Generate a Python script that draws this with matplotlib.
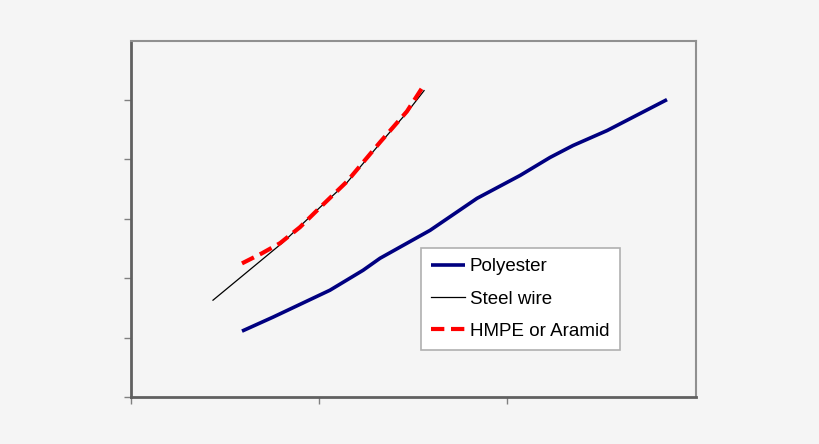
import matplotlib
matplotlib.use("Agg")
import matplotlib.pyplot as plt

plt.rcParams['font.family'] = ['Liberation Sans', 'DejaVu Sans']

poly_x = [0.591, 0.756, 1.058, 1.234, 1.324, 1.590, 1.839, 2.068, 2.227, 2.349, 2.530, 2.848]
poly_y = [1.109, 1.345, 1.798, 2.134, 2.336, 2.807, 3.345, 3.731, 4.034, 4.235, 4.487, 5.008]

steel_x = [0.437, 0.809, 1.005, 1.149, 1.324, 1.467, 1.558]
steel_y = [1.630, 2.605, 3.193, 3.613, 4.269, 4.790, 5.160]

hmpe_x = [0.591, 0.697, 0.793, 0.899, 1.005, 1.149, 1.324, 1.467, 1.563]
hmpe_y = [2.25, 2.42, 2.59, 2.86, 3.19, 3.63, 4.29, 4.81, 5.28]

labels = ["Polyester", "Steel wire", "HMPE or Aramid"]

bg = "#f5f5f5"
fig = plt.figure(figsize=(8.2, 4.44), dpi=100, facecolor=bg)
ax = fig.add_axes([0.1594, 0.1059, 0.6889, 0.8024], facecolor=bg)

ax.plot(poly_x, poly_y, color="#000080", lw=2.6, label=labels[0], solid_capstyle='butt')
ax.plot(steel_x, steel_y, color="black", lw=0.9, label=labels[1])
ax.plot(hmpe_x, hmpe_y, color="#ff0000", lw=3.0, dashes=(3.2, 1.6), label=labels[2])

ax.set_xlim(0, 3)
ax.set_ylim(0, 6)
ax.set_xticks([0, 1, 2])
ax.set_yticks([0, 1, 2, 3, 4, 5])
ax.set_xticklabels([])
ax.set_yticklabels([])
ax.tick_params(axis='y', direction='out', length=5, width=1, color="#808080")
ax.tick_params(axis='x', direction='out', length=5, width=1, color="#808080")

for s in ['left', 'bottom']:
    ax.spines[s].set_color("#606060")
    ax.spines[s].set_linewidth(2)
for s in ['top', 'right']:
    ax.spines[s].set_color("#909090")
    ax.spines[s].set_linewidth(1.5)

leg = ax.legend(loc='upper left', bbox_to_anchor=(0.514, 0.418), fontsize=13.5,
                frameon=True, fancybox=False, edgecolor="#b0b0b0", facecolor="white",
                framealpha=1, handlelength=1.8, handletextpad=0.25, labelspacing=0.8,
                borderpad=0.55, borderaxespad=0)
leg.get_frame().set_linewidth(1.2)

fig.savefig("out.png", dpi=100, facecolor=bg)
